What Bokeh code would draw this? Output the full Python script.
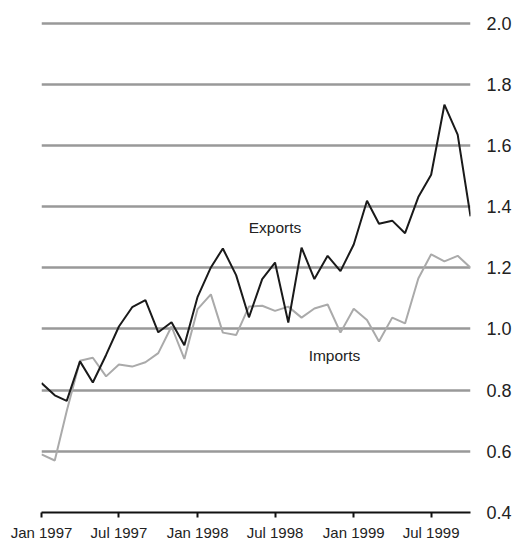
import pandas as pd
from bokeh.plotting import figure
from bokeh.models import (FixedTicker, MonthsTicker, DatetimeTickFormatter,
                          NumeralTickFormatter, Range1d, Label)
from bokeh.embed import file_html
from bokeh.resources import INLINE

# Data (monthly, Jan 1997 - Oct 1999)
months = pd.date_range("1997-01-01", periods=34, freq="MS")
exports = [0.823, 0.783, 0.765, 0.894, 0.825, 0.915, 1.008, 1.071, 1.094, 0.989,
           1.022, 0.947, 1.105, 1.201, 1.263, 1.176, 1.038, 1.163, 1.217, 1.021,
           1.266, 1.163, 1.239, 1.189, 1.276, 1.419, 1.344, 1.354, 1.313, 1.431,
           1.504, 1.733, 1.635, 1.368]
imports = [0.590, 0.570, 0.732, 0.896, 0.906, 0.845, 0.884, 0.877, 0.891, 0.921,
           1.008, 0.902, 1.065, 1.113, 0.988, 0.980, 1.073, 1.076, 1.059, 1.073,
           1.037, 1.067, 1.080, 0.988, 1.066, 1.029, 0.959, 1.037, 1.018, 1.165,
           1.244, 1.221, 1.239, 1.200]
y_ticks = [0.4, 0.6, 0.8, 1.0, 1.2, 1.4, 1.6, 1.8, 2.0]

FONT = "Liberation Sans"

p = figure(width=514, height=543, x_axis_type="datetime", y_axis_location="right",
           output_backend="svg", toolbar_location=None,
           min_border_left=41, min_border_right=42, min_border_top=21,
           min_border_bottom=30)
p.x_range = Range1d(months[0], months[-1])
p.y_range = Range1d(0.4, 2.005)
p.outline_line_color = None
p.background_fill_color = "white"
p.border_fill_color = "white"

p.xgrid.grid_line_color = None
p.ygrid.grid_line_color = "#999999"
p.ygrid.grid_line_width = 2.5
p.ygrid.ticker = FixedTicker(ticks=y_ticks)

ya = p.yaxis[0]
ya.ticker = FixedTicker(ticks=y_ticks)
ya.formatter = NumeralTickFormatter(format="0.0")
ya.axis_line_color = None
ya.major_tick_line_color = None
ya.minor_tick_line_color = None
ya.major_label_standoff = 10
ya.major_label_text_font = FONT
ya.major_label_text_font_size = "18px"
ya.major_label_text_color = "#222222"

xa = p.xaxis[0]
xa.ticker = MonthsTicker(months=[0, 6])
xa.formatter = DatetimeTickFormatter(months="%b %Y", days="%b %Y", years="%b %Y")
xa.axis_line_color = "#111111"
xa.axis_line_width = 2
xa.major_tick_line_color = "#111111"
xa.major_tick_line_width = 2
xa.major_tick_in = 0
xa.major_tick_out = 5
xa.minor_tick_line_color = None
xa.major_label_standoff = 6
xa.major_label_text_font = FONT
xa.major_label_text_font_size = "15px"
xa.major_label_text_color = "#222222"

p.line(months, imports, line_color="#aaaaaa", line_width=2)
p.line(months, exports, line_color="#1a1a1a", line_width=2)

p.add_layout(Label(x=pd.Timestamp("1998-07-01"), y=1.33, text="Exports",
                   text_align="center", text_baseline="middle",
                   text_font=FONT, text_font_size="15.5px", text_color="#222222"))
p.add_layout(Label(x=pd.Timestamp("1998-11-17"), y=0.912, text="Imports",
                   text_align="center", text_baseline="middle",
                   text_font=FONT, text_font_size="15.5px", text_color="#222222"))

open("out.html", "w").write(file_html(p, INLINE))
